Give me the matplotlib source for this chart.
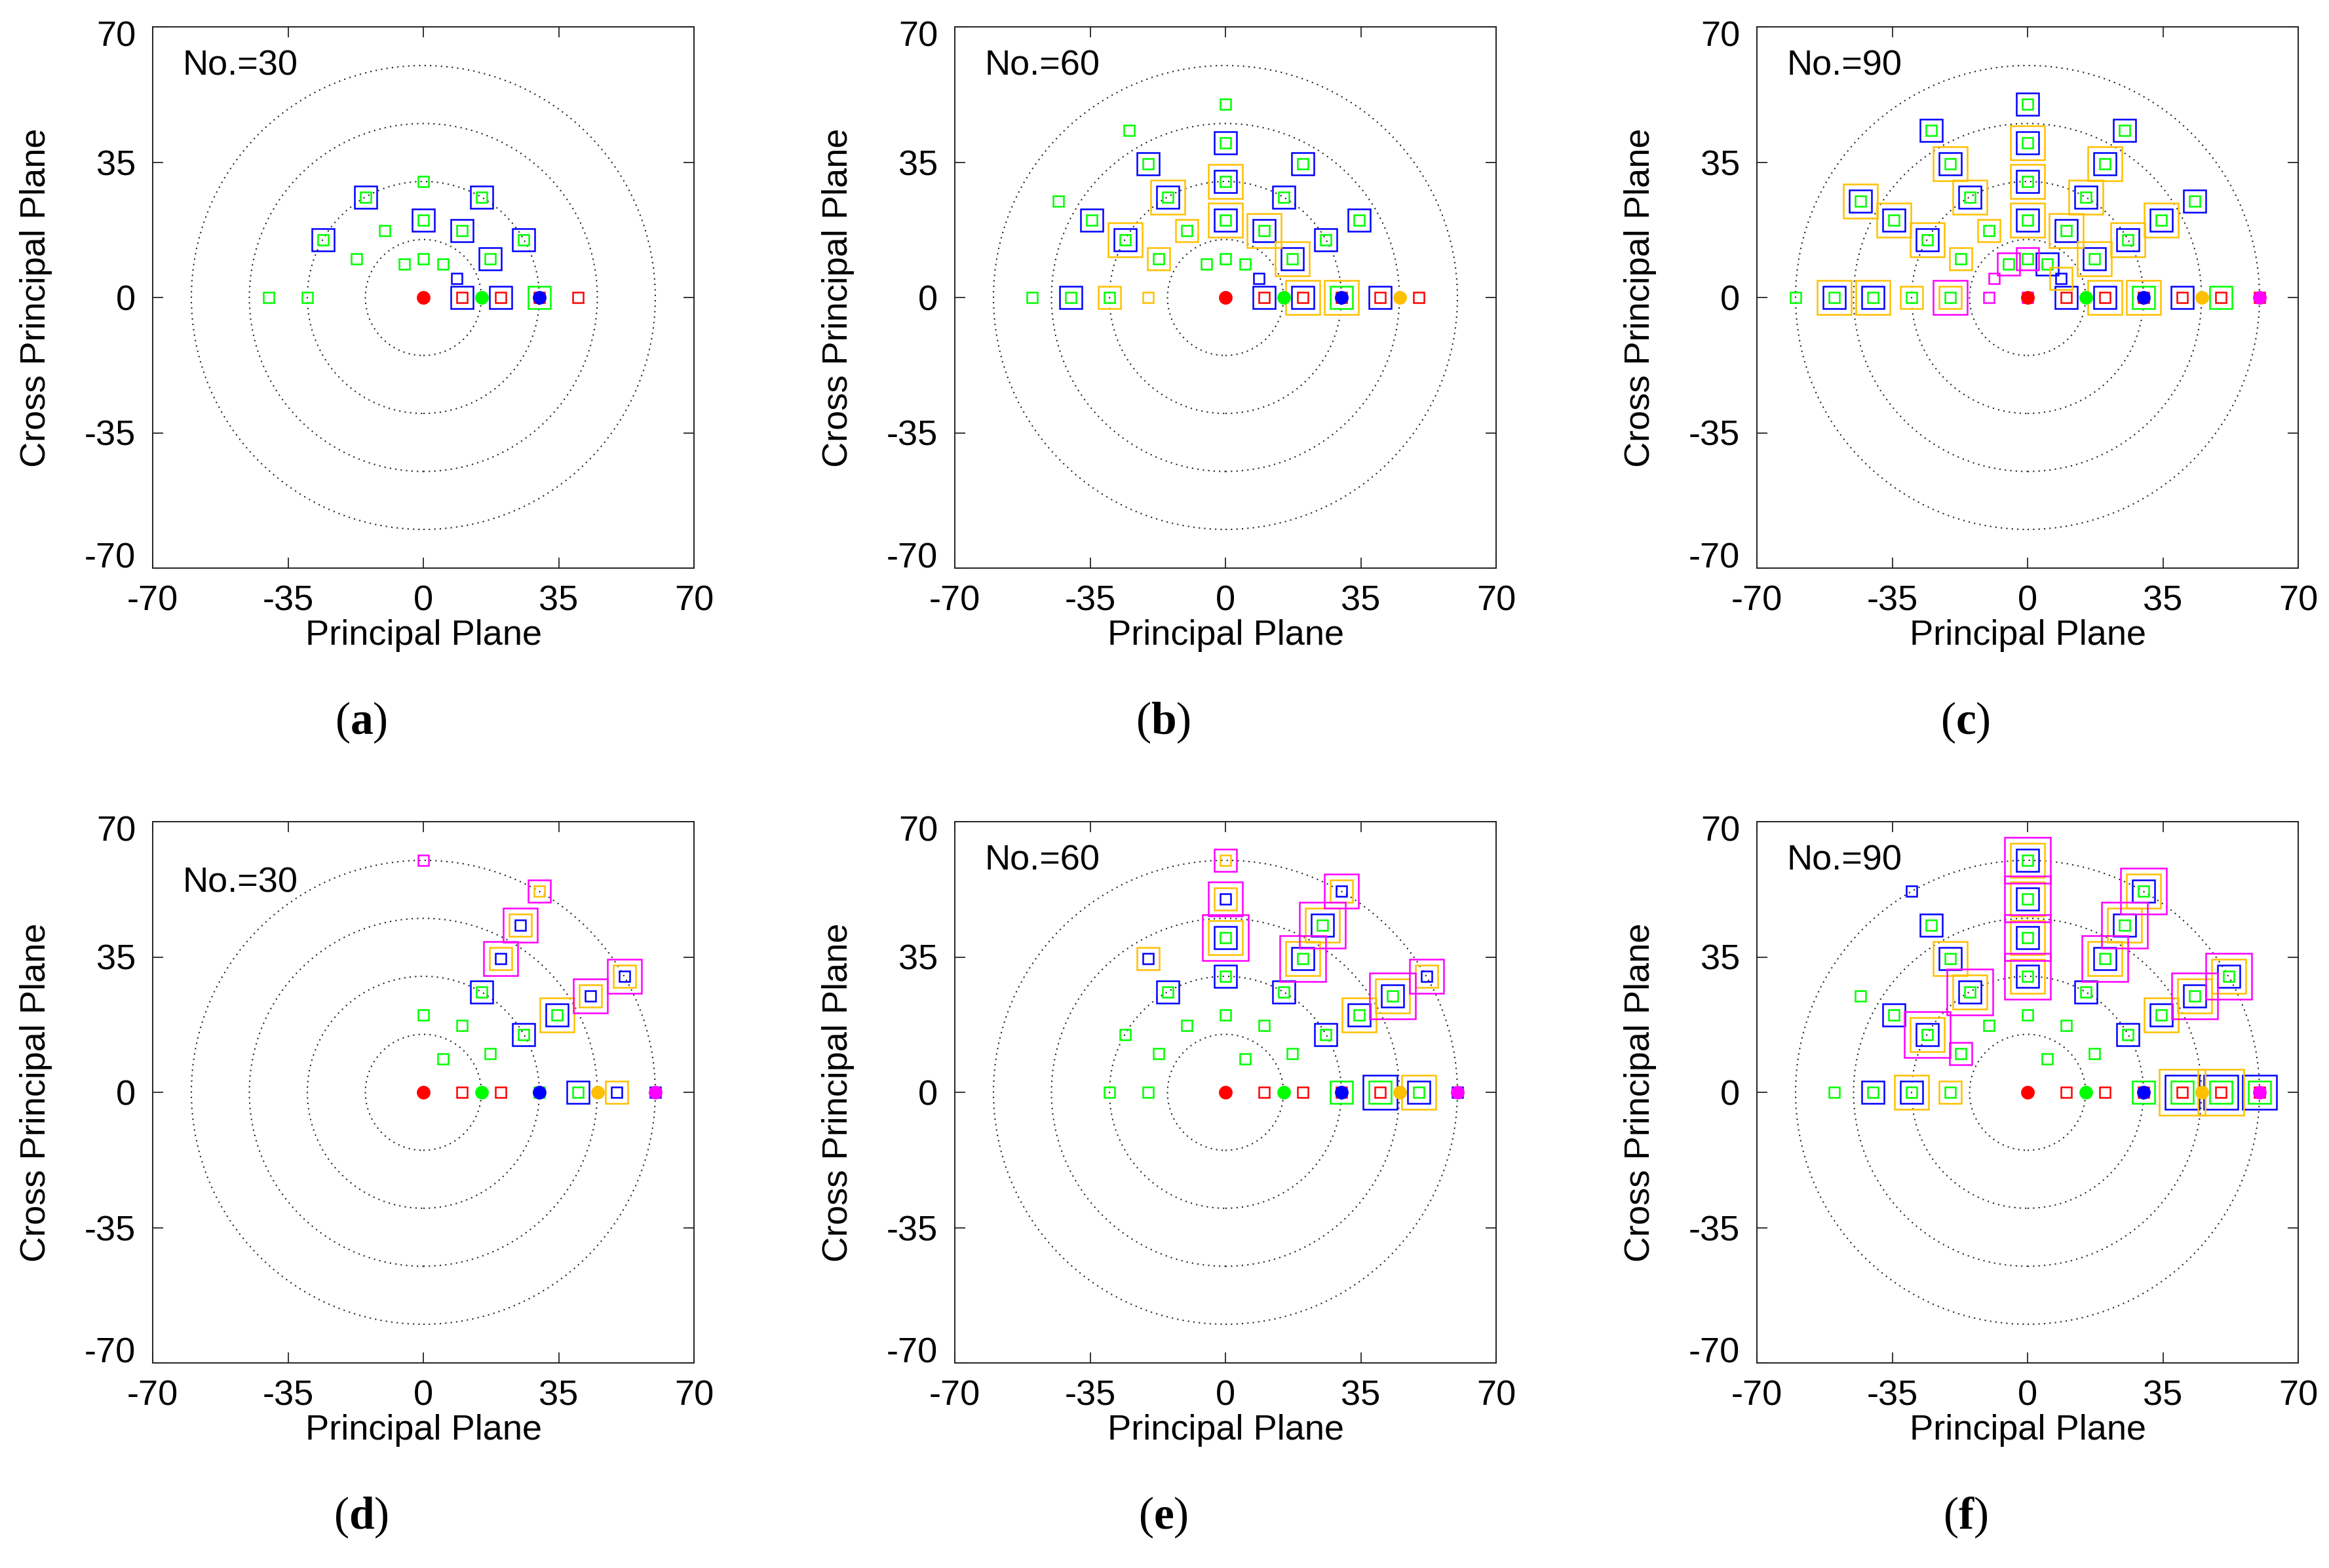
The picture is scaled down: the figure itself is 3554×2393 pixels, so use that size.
import numpy as np
import matplotlib
matplotlib.use('Agg')
import matplotlib.pyplot as plt
from matplotlib.patches import Circle
from matplotlib.transforms import ScaledTranslation

plt.rcParams['font.family'] = ['Liberation Sans', 'DejaVu Sans']
plt.rcParams['axes.unicode_minus'] = False
plt.rcParams['mathtext.fontset'] = 'custom'
plt.rcParams['mathtext.rm'] = 'Liberation Serif'
plt.rcParams['mathtext.bf'] = 'Liberation Serif:bold'

# selected positions per source colour, given as (radius, angle in degrees)
a_red = [(10, 0), (20, 0), (30, 0), (40, 0)]
a_green = [(30, 90), (30, 60), (30, 120), (20, 90), (20, 60), (20, 120), (30, 30), (30, 150),
           (20, 30), (20, 150), (10, 90), (10, 60), (10, 120), (30, 0), (30, 180), (40, 180)]
a_blue = [(30, 60), (30, 120), (20, 90), (20, 60), (30, 30), (30, 150), (20, 30), (10, 30),
          (10, 0), (20, 0)]
a_orange = []
a_magenta = []

b_red = [(10, 0), (20, 0), (30, 0), (40, 0), (50, 0)]
b_green = [(50, 90), (50, 120), (40, 90), (40, 60), (40, 120), (30, 90), (30, 60), (30, 120),
           (50, 150), (40, 150), (40, 30), (20, 90), (20, 60), (20, 120), (30, 30), (30, 150),
           (20, 30), (20, 150), (10, 90), (10, 60), (10, 120), (30, 0), (30, 180), (40, 180),
           (50, 180)]
b_blue = [(40, 90), (40, 60), (40, 120), (30, 90), (30, 60), (30, 120), (40, 150), (40, 30),
          (20, 90), (20, 60), (30, 30), (30, 150), (20, 30), (10, 30), (10, 0), (20, 0),
          (40, 0), (40, 180)]
b_orange = [(30, 90), (30, 120), (20, 90), (20, 60), (20, 120), (30, 150), (20, 30), (20, 150),
            (20, 0), (30, 0), (30, 180), (20, 180)]
b_magenta = []

c_red = [(10, 0), (20, 0), (30, 0), (40, 0), (50, 0), (60, 0)]
c_green = [(50, 90), (50, 60), (50, 120), (40, 90), (40, 60), (40, 120), (30, 90), (30, 60),
           (30, 120), (50, 30), (50, 150), (40, 30), (40, 150), (20, 90), (20, 60), (20, 120),
           (30, 30), (30, 150), (20, 30), (20, 150), (10, 90), (10, 60), (10, 120), (30, 0),
           (50, 0), (20, 180), (30, 180), (40, 180), (50, 180), (60, 180)]
c_blue = [(50, 90), (50, 60), (50, 120), (40, 90), (40, 60), (40, 120), (30, 90), (30, 60),
          (30, 120), (50, 30), (50, 150), (40, 30), (40, 150), (20, 90), (20, 60), (30, 30),
          (30, 150), (20, 30), (10, 60), (10, 30), (10, 0), (20, 0), (40, 0), (40, 180),
          (50, 180)]
c_orange = [(40, 90), (40, 60), (40, 120), (30, 90), (30, 60), (30, 120), (50, 150), (40, 30),
            (40, 150), (20, 90), (20, 60), (20, 120), (30, 30), (30, 150), (20, 30), (20, 150),
            (10, 30), (20, 0), (30, 0), (20, 180), (30, 180), (40, 180), (50, 180)]
c_magenta = [(0, 0), (10, 90), (10, 120), (10, 150), (10, 180), (20, 180)]

d_red = [(10, 0), (20, 0)]
d_green = [(20, 90), (20, 60), (10, 60), (20, 30), (30, 60), (30, 30), (40, 30), (30, 0), (40, 0)]
d_blue = [(30, 60), (30, 30), (40, 30), (40, 60), (50, 60), (50, 30), (60, 30), (40, 0),
          (50, 0), (60, 0)]
d_orange = [(40, 30), (40, 60), (50, 60), (60, 60), (50, 30), (60, 30), (50, 0)]
d_magenta = [(40, 60), (50, 60), (60, 60), (60, 90), (50, 30), (60, 30)]

e_red = [(10, 0), (20, 0), (30, 0), (40, 0)]
e_green = [(20, 90), (30, 90), (40, 90), (30, 60), (40, 60), (50, 60), (30, 120), (20, 60),
           (20, 120), (20, 30), (20, 150), (10, 60), (30, 150), (30, 30), (40, 30), (50, 30),
           (30, 0), (40, 0), (50, 0), (20, 180), (30, 180)]
e_blue = [(30, 90), (40, 90), (50, 90), (30, 60), (40, 60), (50, 60), (60, 60), (30, 120),
          (40, 120), (30, 30), (40, 30), (50, 30), (60, 30), (40, 0), (50, 0), (60, 0)]
e_orange = [(40, 90), (50, 90), (60, 90), (40, 60), (50, 60), (60, 60), (40, 120), (40, 30),
            (50, 30), (60, 30), (50, 0)]
e_magenta = [(40, 90), (50, 90), (60, 90), (40, 60), (50, 60), (60, 60), (50, 30), (60, 30)]

f_red = [(10, 0), (20, 0), (30, 0), (40, 0), (50, 0), (60, 0)]
f_green = [(20, 90), (30, 90), (40, 90), (50, 90), (60, 90), (10, 60), (20, 60), (30, 60),
           (40, 60), (50, 60), (60, 60), (20, 120), (30, 120), (40, 120), (50, 120), (20, 30),
           (30, 30), (40, 30), (50, 30), (60, 30), (20, 150), (30, 150), (40, 150), (50, 150),
           (30, 0), (40, 0), (50, 0), (60, 0), (20, 180), (30, 180), (40, 180), (50, 180)]
f_blue = [(30, 90), (40, 90), (50, 90), (60, 90), (30, 60), (40, 60), (50, 60), (60, 60),
          (30, 120), (40, 120), (50, 120), (60, 120), (30, 30), (40, 30), (50, 30), (60, 30),
          (30, 150), (40, 150), (40, 0), (50, 0), (60, 0), (30, 180), (40, 180)]
f_orange = [(30, 90), (40, 90), (50, 90), (60, 90), (40, 60), (50, 60), (60, 60), (30, 120),
            (40, 120), (40, 30), (50, 30), (60, 30), (30, 150), (40, 0), (50, 0), (20, 180),
            (30, 180)]
f_magenta = [(30, 90), (40, 90), (50, 90), (60, 90), (40, 60), (50, 60), (60, 60), (30, 120),
             (50, 30), (60, 30), (20, 150), (30, 150)]

# source positions on the principal plane (filled dots)
a_src = [0, 15, 30]
b_src = [0, 15, 30, 45]
c_src = [0, 15, 30, 45, 60]
d_src = [0, 15, 30, 45, 60]
e_src = [0, 15, 30, 45, 60]
f_src = [0, 15, 30, 45, 60]

ring_r = [15, 30, 45, 60]
ticks = [-70, -35, 0, 35, 70]
tags = ['a', 'b', 'c', 'd', 'e', 'f']
counts = ['No.=30', 'No.=60', 'No.=90', 'No.=30', 'No.=60', 'No.=90']
colors = ['#ff0000', '#00ff00', '#0000ff', '#ffc000', '#ff00ff']

squares = [
    [a_red, a_green, a_blue, a_orange, a_magenta],
    [b_red, b_green, b_blue, b_orange, b_magenta],
    [c_red, c_green, c_blue, c_orange, c_magenta],
    [d_red, d_green, d_blue, d_orange, d_magenta],
    [e_red, e_green, e_blue, e_orange, e_magenta],
    [f_red, f_green, f_blue, f_orange, f_magenta],
]
sources = [a_src, b_src, c_src, d_src, e_src, f_src]

W, H = 3554, 2393
fig = plt.figure(figsize=(W / 100, H / 100), dpi=100)

lefts = [233, 1457, 2681]
tops = [41, 1254]
size = 826

for k in range(6):
    row, col = divmod(k, 3)
    l, t = lefts[col], tops[row]
    ax = fig.add_axes([l / W, 1 - (t + size) / H, size / W, size / H])
    ax.set_xlim(-70, 70)
    ax.set_ylim(-70, 70)

    for rr in ring_r:
        ax.add_patch(Circle((0, 0), rr, fill=False, ls=(0, (1, 3)), lw=1.5,
                            ec='#222222', zorder=1))

    # nested squares: each further colour at the same spot is drawn one step bigger
    seen = {}
    for color, pts in zip(colors, squares[k]):
        for r, deg in pts:
            rank = seen.get((r, deg), 0) + 1
            seen[(r, deg)] = rank
            x = r * np.cos(np.radians(deg))
            y = r * np.sin(np.radians(deg))
            ax.plot(x, y, 's', ms=(18 * rank - 1.8) * 0.72, mfc='none', mec=color,
                    mew=1.8, zorder=2)

    for i, sx in enumerate(sources[k]):
        ax.plot(sx, 0, 'o', ms=15, color=colors[i], mew=0, zorder=5)

    ax.set_xticks(ticks)
    ax.set_yticks(ticks)
    ax.tick_params(direction='in', length=11.5, width=1.1, top=True, right=True,
                   labelsize=39, pad=18.5, colors='black')
    for sp in ax.spines.values():
        sp.set_linewidth(1.4)
        sp.set_color('#222222')

    yt = ax.yaxis.get_major_ticks()
    yt[-1].label1.set_transform(yt[-1].label1.get_transform() +
                                ScaledTranslation(0, -0.10, fig.dpi_scale_trans))
    yt[0].label1.set_transform(yt[0].label1.get_transform() +
                               ScaledTranslation(0, 0.20, fig.dpi_scale_trans))

    ax.set_xlabel('Principal Plane', fontsize=39)
    ax.xaxis.set_label_coords(0.5, -0.0944)
    ax.set_ylabel('Cross Principal Plane', fontsize=39)
    ax.yaxis.set_label_coords(-0.185, 0.5)

    ty = 51.7 if k == 3 else 57.5
    ax.text(-62.3, ty, counts[k], fontsize=39, ha='left', va='baseline')

    fig.text((l + 318) / W, 1 - (t + 1062) / H, r'($\mathbf{' + tags[k] + '}$)',
             family='Liberation Serif', fontsize=50, ha='center', va='center')

fig.savefig('out.png', dpi=100)
